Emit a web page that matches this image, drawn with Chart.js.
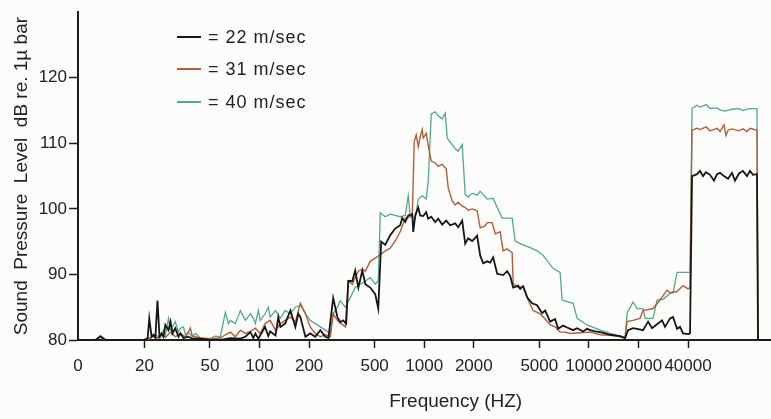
<!DOCTYPE html>
<html lang="en">
<head>
    <meta charset="UTF-8">
    <title>Sound Pressure Level vs Frequency</title>
    <script src="https://cdn.jsdelivr.net/npm/chart.js"></script>
    <style>
        * {
            margin: 0;
            padding: 0;
            box-sizing: border-box;
        }
        body {
            background-color: #fcfcfa;
            font-family: "Liberation Sans", Arial, sans-serif;
        }
        .chart-container {
            position: relative;
            width: 771px;
            height: 419px;
        }
        #legend {
            position: absolute;
            left: 177px;
            top: 0;
        }
        .legend-item {
            position: absolute;
            left: 0;
            height: 22px;
            display: flex;
            align-items: center;
            white-space: nowrap;
            font-size: 18px;
            letter-spacing: 1px;
            color: #222;
        }
        .legend-line {
            width: 24px;
            margin-right: 7px;
        }
    </style>
</head>
<body>

    <div class="chart-container">
        <canvas id="spl-chart" width="771" height="419"></canvas>
        <div id="legend"></div>
    </div>

    <script>
        // axis ticks (the "0" tick sits at the left end of the log axis)
        const xTickValues = [7.9, 20, 50, 100, 200, 500, 1000, 2000, 5000, 10000, 20000, 40000];
        const xTickLabels = ['0', '20', '50', '100', '200', '500', '1000', '2000', '5000', '10000', '20000', '40000'];
        const yTickValues = [80, 90, 100, 110, 120];

        const seriesLabels = ['= 22 m/sec', '= 31 m/sec', '= 40 m/sec'];
        const seriesColors = ['#161616', '#b35d3c', '#52a98b'];

        // 22 m/sec
        const freq22 = [7.9, 10.1, 10.8, 11.6, 19.7, 20.9, 21.4, 22.1, 22.7, 23.3, 24.0, 24.7, 25.4, 26.1, 26.8, 28.0, 28.8, 29.6, 30.8, 32.2,
            33.1, 34.5, 37.0, 39.1, 43.7, 50.3, 57.8, 66.5, 76.5, 82, 88, 91.7, 94.3, 98.4, 108, 113, 116, 125, 130, 134,
            143, 154, 165, 172, 177, 190, 203, 218, 234, 251, 262, 280, 297, 309, 322, 336, 346, 366, 381, 398,
            421, 439, 470, 504, 526, 548, 580, 622, 667, 715, 735, 767, 800, 846, 858, 882, 920, 945, 986, 1028,
            1057, 1103, 1166, 1216, 1286, 1360, 1438, 1542, 1608, 1701, 1774, 1849, 1956, 2096, 2187, 2280, 2412, 2515, 2623, 2774,
            3016, 3190, 3326, 3468, 3720, 3825, 3988, 4218, 4522, 4848, 5200, 5424, 5818, 6238, 6504, 6972, 7372, 8022, 8482, 9222,
            9752, 10180, 10910, 11700, 12540, 13450, 14420, 15470, 16590, 17300, 18540, 19610, 21320, 22880, 24190, 25940, 27820, 29000, 31100, 32430,
            34300, 35760, 37300, 40000, 41130, 42300, 45360, 47300, 49330, 51440, 54400, 57500, 59980, 62560, 66140, 69960, 73960, 77140, 81560, 86240,
            91180, 95100, 99180, 104900, 106400, 127600];
        const spl22 = [80, 80, 80.6, 80, 80, 80.2, 83.3, 80.5, 80.8, 80.3, 86, 80.5, 81, 80.5, 82.3, 81.5, 82.8, 81, 81.8, 80.5,
            81, 80.3, 80.5, 80.2, 80.2, 80, 80, 80.3, 80.2, 80.5, 81.2, 80.3, 81, 80.2, 82, 80.6, 81.3, 80.7, 83.5, 82,
            82.5, 84.5, 82, 84, 83.5, 80.5, 81, 80.5, 81.5, 80.5, 80.3, 86.4, 83.5, 82.7, 83, 82.5, 89, 89, 90.6, 88,
            90.6, 88.5, 88, 87, 84.8, 95, 94.5, 96, 97, 97.5, 98.6, 98, 99, 99.2, 96.5, 99, 100.2, 99, 98.9, 99.5,
            98.5, 98.8, 98, 98.5, 97.6, 98.2, 97.5, 97.8, 97.2, 98.2, 94.7, 95.5, 95.1, 95.9, 92.9, 91.7, 92, 91.8, 92.6, 90.1,
            89.9, 90.5, 89.8, 88, 88.3, 87.8, 88.2, 86.5, 85.6, 85.3, 84.1, 84.5, 82.8, 83.2, 81.7, 82.2, 81.9, 81.5, 81.8, 81.3,
            81.7, 81.5, 81.3, 81.2, 81, 80.8, 80.7, 80.6, 80.3, 81.5, 81.8, 81.7, 81.5, 82.8, 81.8, 82.4, 83, 82, 83.3, 83.5,
            81.7, 82, 81, 80.9, 81, 105, 105.3, 105.8, 105, 105.6, 105.2, 104.3, 105.3, 105.5, 105, 104.6, 105.5, 104.3, 105.4, 105.8,
            105, 105.8, 105.2, 105.3, 80, 80];

        // 31 m/sec
        const freq31 = [7.9, 10.1, 10.8, 11.6, 19.7, 21.4, 22.7, 24.0, 25.4, 26.8, 28.8, 30.8, 33.1, 35.5, 38.0, 39.1, 43.7, 50.3, 57.8, 62,
            66.5, 71.3, 76.5, 82, 88, 94.3, 101, 108, 116, 125, 134, 143, 154, 165, 177, 190, 203, 218, 234, 251,
            269, 280, 297, 309, 332, 346, 366, 381, 398, 421, 439, 470, 504, 541, 580, 622, 667, 715, 767, 846,
            870, 894, 920, 945, 973, 986, 1028, 1073, 1103, 1166, 1216, 1286, 1360, 1399, 1479, 1542, 1608, 1701, 1774, 1849,
            1956, 2096, 2187, 2345, 2412, 2586, 2698, 2892, 3016, 3190, 3420, 3468, 3720, 3988, 4276, 4585, 5060, 5424, 5818, 6238,
            6690, 7170, 7695, 8850, 10180, 11700, 13450, 15470, 16590, 17050, 18540, 20450, 21320, 24530, 27040, 29820, 31100, 34300, 37300, 40000,
            41130, 42300, 45360, 47300, 51440, 54400, 59980, 62560, 66140, 68000, 69960, 73960, 81560, 86240, 91180, 95100, 104900, 106400, 127600];
        const spl31 = [80, 80, 80.5, 80, 80, 80.3, 80.6, 80.3, 81, 80.4, 81.2, 80.5, 81, 80.4, 81.8, 80.6, 80.3, 80.2, 80.3, 80.8,
            81.2, 80.5, 81.5, 81, 81.3, 81.8, 81, 82.5, 83, 81.5, 82.5, 83, 83.5, 82.8, 85.6, 84, 82, 81, 80.5, 80.8,
            80.5, 84, 83, 82.6, 82, 89, 88.5, 89.5, 90.5, 90.8, 90.5, 92, 92.5, 93, 93.6, 94, 95.1, 96.5, 98.6, 98.9,
            110.3, 111.3, 109.5, 111, 112.1, 110.8, 111.5, 108.8, 107.3, 107, 106.5, 106.8, 106.1, 103.2, 101.2, 100.6, 101, 100.4, 100.2, 99.8,
            100, 99.7, 97.1, 97.4, 97.9, 97.9, 96.2, 96.5, 93.6, 93.9, 93.3, 88.6, 88, 88.2, 86.1, 84.5, 84, 83.2, 82.3, 82,
            81.2, 81.2, 81, 81.1, 81.2, 80.8, 80.7, 80.5, 80.3, 82.8, 83, 83.3, 84.5, 84.8, 86.1, 87.6, 87.2, 87.4, 88.3, 87.8,
            88, 112, 112.3, 112.1, 112.5, 111.9, 112.3, 111.8, 112.8, 111.2, 112, 112.2, 111.9, 112.2, 111.8, 112.3, 112, 80, 80];

        // 40 m/sec
        const freq40 = [7.9, 10.1, 10.8, 11.6, 19.7, 21.7, 23.3, 25, 26.1, 26.8, 28.0, 28.8, 29.6, 30.8, 32.2, 33.1, 34.5, 35.5, 37.0, 39.1,
            40.8, 43.7, 50.3, 53.9, 57.8, 62, 64.7, 66.5, 71.3, 76.5, 82, 88, 91.7, 94.3, 98.4, 101, 108, 113, 116, 125,
            134, 143, 154, 165, 177, 190, 203, 218, 234, 251, 269, 280, 297, 309, 332, 356, 381, 409, 439, 470,
            504, 526, 541, 580, 622, 667, 715, 767, 800, 822, 882, 920, 973, 1028, 1057, 1103, 1166, 1216, 1286, 1341,
            1379, 1438, 1542, 1608, 1701, 1774, 1849, 1956, 2096, 2187, 2412, 2623, 2774, 2974, 3420, 3567, 3825, 4400, 4848, 5275,
            6066, 6690, 6878, 8022, 8482, 9752, 11700, 13450, 15470, 16590, 17050, 18540, 19610, 21320, 21940, 24530, 25940, 28210, 31100, 32430,
            34300, 41130, 42300, 45360, 47300, 51440, 54400, 59980, 62560, 67080, 73960, 81560, 86240, 91180, 95100, 104900, 106400, 127600];
        const spl40 = [80, 80, 80.4, 80, 80, 80.2, 80.8, 80.3, 81.5, 80.8, 83.3, 81.5, 82, 82.8, 81.2, 81.8, 82, 80.8, 81.2, 80.5,
            81, 80.3, 80.2, 80.6, 80.5, 84.2, 82.5, 83, 82.5, 84.5, 83, 84, 83.3, 82.5, 84.5, 83, 84, 85, 83.5, 84.5,
            83.3, 84.5, 84, 85, 85.3, 84, 83, 82.5, 82, 81.5, 81, 84, 85, 86, 85, 86.5, 88, 88.5, 89, 89.5,
            88.5, 89, 99.4, 98.8, 99.2, 99, 98.8, 99, 102, 99, 98.5, 101.5, 102, 101.5, 104, 114.5, 114.8, 114.2, 113.7, 114.6,
            110.8, 110.2, 109.2, 108.8, 109.8, 102.2, 101.8, 102.4, 102.1, 102.7, 101.5, 101.6, 100.2, 98.6, 98.6, 95.1, 94.7, 94.1, 93.6, 92.9,
            90.9, 90.3, 86.1, 85.6, 83.3, 82.3, 81.5, 81, 80.6, 80.4, 84.1, 85.8, 84.8, 84.8, 83.3, 83.3, 86.1, 86.2, 87.1, 87.2,
            90.3, 90.3, 115.3, 115.8, 115.5, 115.9, 115.3, 115.4, 115.1, 114.9, 115.2, 115.3, 115, 115.2, 115.3, 115.3, 80, 80];

        const toPoints = (xs, ys) => xs.map((x, i) => ({ x: x, y: ys[i] }));

        const chartData = {
            datasets: [
                { label: seriesLabels[0], data: toPoints(freq22, spl22), borderColor: seriesColors[0], borderWidth: 1.8 },
                { label: seriesLabels[1], data: toPoints(freq31, spl31), borderColor: seriesColors[1], borderWidth: 1.4 },
                { label: seriesLabels[2], data: toPoints(freq40, spl40), borderColor: seriesColors[2], borderWidth: 1.3 }
            ]
        };

        const axisColor = '#1e1e1e';
        const fontFamily = '"Liberation Sans", Arial, sans-serif';
        const tickFont = { family: fontFamily, size: 17 };

        const chartConfig = {
            type: 'line',
            data: chartData,
            options: {
                responsive: false,
                animation: false,
                layout: { padding: { top: 10, right: 0, left: 0, bottom: 0 } },
                elements: {
                    point: { radius: 0 },
                    line: { tension: 0, fill: false }
                },
                plugins: {
                    legend: { display: false },
                    tooltip: { enabled: false }
                },
                scales: {
                    x: {
                        type: 'logarithmic',
                        min: 7.9,
                        max: 127600,
                        afterBuildTicks: (s) => { s.ticks = xTickValues.map(v => ({ value: v })); },
                        afterFit: (s) => { s.height = 79; },
                        ticks: {
                            autoSkip: false,
                            maxRotation: 0,
                            padding: 8,
                            color: '#222',
                            font: tickFont,
                            callback: (v, i) => xTickLabels[i]
                        },
                        grid: {
                            drawOnChartArea: false,
                            tickLength: 8,
                            tickWidth: 1.5,
                            tickColor: (ctx) => ctx.index === 0 ? 'rgba(0,0,0,0)' : axisColor
                        },
                        border: { color: axisColor, width: 2 },
                        title: {
                            display: true,
                            // leading em spaces push the title right, where the original sits
                            text: '\u2003\u2003\u2003 Frequency (HZ)',
                            color: '#222',
                            font: { family: fontFamily, size: 19 },
                            padding: { top: 4, bottom: 6 }
                        }
                    },
                    y: {
                        min: 80,
                        max: 130,
                        afterBuildTicks: (s) => { s.ticks = yTickValues.map(v => ({ value: v })); },
                        afterFit: (s) => { s.width = 78; },
                        ticks: {
                            padding: 2,
                            color: '#222',
                            font: tickFont
                        },
                        grid: {
                            drawOnChartArea: false,
                            tickLength: 9,
                            tickWidth: 1.5,
                            tickColor: axisColor
                        },
                        border: { color: axisColor, width: 2 },
                        title: {
                            display: true,
                            text: 'Sound  Pressure  Level  dB re. 1µ bar',
                            color: '#222',
                            font: { family: fontFamily, size: 19 },
                            padding: { top: 10, bottom: 0 }
                        }
                    }
                }
            }
        };

        const ctx = document.getElementById('spl-chart').getContext('2d');
        const chart = new Chart(ctx, chartConfig);

        // legend in the upper left of the plot, as in the original
        const legendTops = [26, 58, 91];
        const legendEl = document.getElementById('legend');
        chart.data.datasets.forEach((ds, i) => {
            const item = document.createElement('div');
            item.className = 'legend-item';
            item.style.top = legendTops[i] + 'px';
            const line = document.createElement('span');
            line.className = 'legend-line';
            line.style.borderTop = '2px solid ' + ds.borderColor;
            const label = document.createElement('span');
            label.textContent = ds.label;
            item.appendChild(line);
            item.appendChild(label);
            legendEl.appendChild(item);
        });
    </script>

</body>
</html>
